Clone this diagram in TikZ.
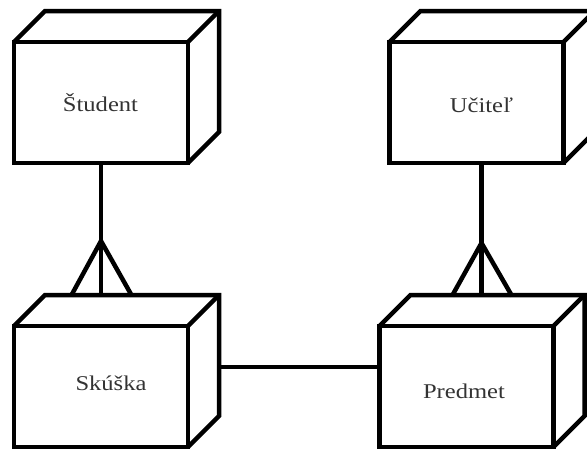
\documentclass[tikz,border=0pt]{standalone}
\usepackage{fontspec}
\setmainfont{Liberation Serif}
\usetikzlibrary{calc}
\tikzset{
  face/.style={draw, line width=4.5pt, rectangle, outer sep=0pt, inner sep=0pt,
    minimum width=174pt, minimum height=121pt, fill=white},
  edge/.style={line width=4.5pt},
  conn/.style={line width=4.5pt},
  lbl/.style={anchor=base, inner sep=0pt, font=\fontsize{21}{25}\selectfont, text=black!80},
}
\newcommand{\boxdepth}[1]{%
  \draw[edge] (#1.north west) -- ++(31,-31) -| ($(#1.south east)+(31,-31)$) -- (#1.south east);
  \draw[edge] (#1.north east) -- ++(31,-31);
}
\begin{document}
\begin{tikzpicture}[x=1pt,y=-1pt]
\useasboundingbox (0,0) rectangle (587,448);
\clip (0,0) rectangle (587,448);
% boxes
\node[face] (stu) at (101,102.5) {};
\node[face] (uci) at (476.5,102.5) {};
\node[face] (sku) at (101,386.5) {};
\node[face] (pre) at (466.5,386.5) {};
\boxdepth{stu}
\boxdepth{uci}
\boxdepth{sku}
\boxdepth{pre}
% labels
\node[lbl] (tstu) at (100.5,111) {\scalebox{1.17}[1]{Študent}};
\node[lbl] (tuci) at (481.5,112) {\scalebox{1.17}[1]{Učiteľ}};
\node[lbl] (tsku) at (111,390) {\scalebox{1.17}[1]{Skúška}};
\node[lbl] (tpre) at (464,398) {\scalebox{1.17}[1]{Predmet}};
% connector points
\coordinate (a1) at (101,163);
\coordinate (a2) at (101,296);
\coordinate (ab) at (101,241);
\coordinate (al) at (71,296);
\coordinate (ar) at (132,296);
\coordinate (b1) at (481.5,163);
\coordinate (b2) at (481.5,296);
\coordinate (bb) at (481.5,243);
\coordinate (bl) at (452,296);
\coordinate (br) at (512,296);
\coordinate (c1) at (219,367);
\coordinate (c2) at (380,367);
% connectors
\draw[conn] (a1) -- (a2);
\draw[conn] (al) -- (ab) -- (ar);
\draw[conn] (b1) -- (b2);
\draw[conn] (bl) -- (bb) -- (br);
\draw[conn] (c1) -- (c2);
\end{tikzpicture}
\end{document}
